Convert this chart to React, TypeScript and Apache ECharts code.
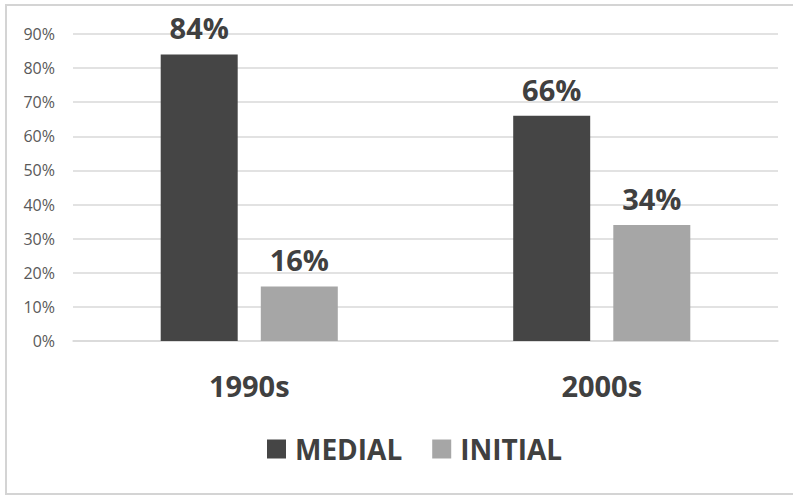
import React, { useEffect, useRef } from "react";
import * as echarts from "echarts";

const decades = ["1990s", "2000s"];
const medial = [84, 66];
const initial = [16, 34];
const yTicks = { min: 0, max: 90, step: 10 };

const FONT = "'Open Sans', 'Noto Sans', sans-serif";
const TEXT_DARK = "#404040";

export default function App() {
  const ref = useRef<HTMLDivElement>(null);

  useEffect(() => {
    document.body.style.margin = "0";
    if (!ref.current) return;
    const chart = echarts.init(ref.current, undefined, { renderer: "svg" });

    const valueLabel = {
      show: true,
      position: "top" as const,
      distance: 12,
      formatter: "{c}%",
      fontFamily: FONT,
      fontSize: 29,
      fontWeight: "bold" as const,
      color: TEXT_DARK,
    };

    chart.setOption({
      animation: false,
      backgroundColor: "#ffffff",
      textStyle: { fontFamily: FONT },
      graphic: [
        {
          // frame open on the right: the chart area runs off the page edge
          type: "polyline",
          shape: {
            points: [
              [820, 5],
              [6, 5],
              [6, 494],
              [820, 494],
            ],
          },
          style: { fill: "none", stroke: "#d4d4d4", lineWidth: 2 },
          silent: true,
          z: -10,
        },
      ],
      grid: { left: 73, right: 15, top: 34, bottom: 155, containLabel: false },
      legend: {
        left: 262,
        top: 430,
        icon: "rect",
        itemWidth: 19,
        itemHeight: 19,
        itemGap: 30,
        textStyle: {
          fontFamily: FONT,
          fontSize: 28,
          fontWeight: "bold",
          color: TEXT_DARK,
          padding: [0, 0, 0, 4],
        },
        data: ["MEDIAL", "INITIAL"],
      },
      xAxis: {
        type: "category",
        data: decades,
        axisTick: { show: false },
        axisLine: { show: true, lineStyle: { color: "#d9d9d9", width: 1.5 } },
        axisLabel: {
          margin: 30,
          fontFamily: FONT,
          fontSize: 29,
          fontWeight: "bold",
          color: TEXT_DARK,
        },
      },
      yAxis: {
        type: "value",
        min: yTicks.min,
        max: yTicks.max,
        interval: yTicks.step,
        axisLine: { show: false },
        axisTick: { show: false },
        axisLabel: {
          formatter: "{value}%",
          margin: 18,
          fontFamily: FONT,
          fontSize: 16,
          color: "#595959",
        },
        splitLine: { lineStyle: { color: "#d9d9d9", width: 1.5 } },
      },
      series: [
        {
          name: "MEDIAL",
          type: "bar",
          data: medial,
          barWidth: 77,
          barGap: "30%",
          itemStyle: { color: "#454545" },
          label: valueLabel,
        },
        {
          name: "INITIAL",
          type: "bar",
          data: initial,
          barWidth: 77,
          itemStyle: { color: "#a6a6a6" },
          label: valueLabel,
        },
      ],
    });

    return () => chart.dispose();
  }, []);

  return <div ref={ref} style={{ width: 793, height: 496 }} />;
}
